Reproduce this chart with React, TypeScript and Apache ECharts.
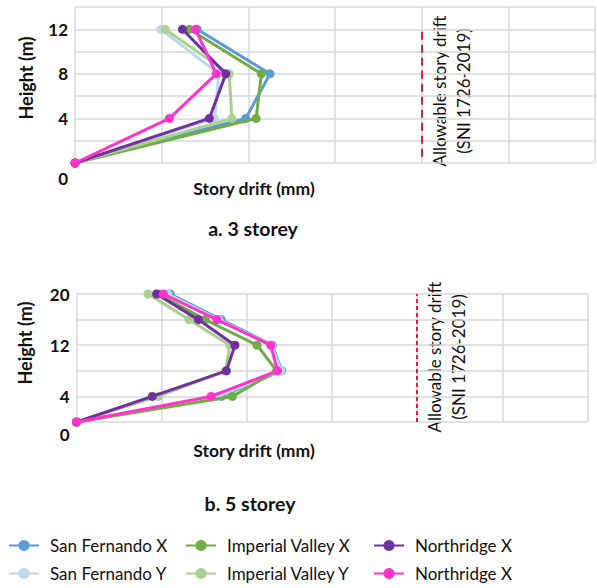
import React, { useEffect, useRef } from "react";
import * as echarts from "echarts";

const seriesNames = ["San Fernando X", "San Fernando Y", "Imperial Valley X", "Imperial Valley Y", "Northridge X", "Northridge Y"];
const seriesColors = ["#5B9BD5", "#BDD7EE", "#70AD47", "#A9D18E", "#7030A0", "#FF33CC"];

// 3 storey
const heights3 = [0, 4, 8, 12];
const sfX3 = [0, 19.7, 22.5, 14.1];
const sfY3 = [0, 16.1, 16.6, 9.9];
const ivX3 = [0, 20.9, 21.5, 13.2];
const ivY3 = [0, 18.1, 17.8, 10.4];
const nrX3 = [0, 15.5, 17.4, 12.4];
const nrY3 = [0, 10.9, 16.3, 13.9];

// 5 storey
const heights5 = [0, 4, 8, 12, 16, 20];
const sfX5 = [0, 17.0, 24.1, 23.0, 17.0, 11.0];
const sfY5 = [0, 16.6, 24.0, 22.9, 16.7, 10.7];
const ivX5 = [0, 18.3, 23.5, 21.2, 15.1, 9.6];
const ivY5 = [0, 9.6, 17.5, 18.0, 13.2, 8.4];
const nrX5 = [0, 8.9, 17.6, 18.6, 14.3, 9.4];
const nrY5 = [0, 15.8, 23.6, 22.8, 16.5, 10.2];

const allowableDrift = 40;
const yTicks3 = [0, 4, 8, 12];
const yTicks5 = [0, 4, 12, 20];

const FONT = "Lato";

export default function App() {
  const ref = useRef<HTMLDivElement>(null);
  useEffect(() => {
    document.body.style.margin = "0";
    if (!ref.current) return;
    const chart = echarts.init(ref.current, null, { renderer: "svg" });
    const data3 = [sfX3, sfY3, ivX3, ivY3, nrX3, nrY3];
    const data5 = [sfX5, sfY5, ivX5, ivY5, nrX5, nrY5];

    const mkSeries = (arrs: number[][], heights: number[], idx: number, dash: number[], lineFrom: number, lineTo: number) =>
      arrs.map((arr, i) => ({
        type: "line",
        name: seriesNames[i],
        xAxisIndex: idx,
        yAxisIndex: idx,
        data: arr.map((v, k) => [v, heights[k]]),
        color: seriesColors[i],
        lineStyle: { width: 3, color: seriesColors[i] },
        itemStyle: { color: seriesColors[i] },
        symbol: "circle",
        symbolSize: 9,
        z: 3 + i,
        markLine:
          i === 0
            ? {
                silent: true,
                symbol: "none",
                label: { show: false },
                lineStyle: { color: "#E8202A", width: 2, type: dash },
                data: [[{ coord: [allowableDrift, lineFrom] }, { coord: [allowableDrift, lineTo] }]],
              }
            : undefined,
      }));

    const splitLine = { show: true, lineStyle: { color: "#D9D9D9", width: 1.5 } };
    const yLabel = (ticks: number[], pad: number) => ({
      show: true,
      fontFamily: FONT,
      fontWeight: "bold",
      fontSize: 17,
      color: "#111",
      margin: 7,
      formatter: (v: number) => (ticks.includes(v) ? (v === 0 ? "{z|0}" : String(v)) : ""),
      rich: { z: { padding: [pad, 0, 0, 0], fontFamily: FONT, fontWeight: "bold", fontSize: 17, color: "#111" } },
    });

    const legendBase = {
      orient: "vertical",
      top: 537,
      height: 48,
      padding: 0,
      itemWidth: 30,
      itemHeight: 14,
      itemGap: 11,
      textStyle: { fontFamily: FONT, fontSize: 17, color: "#111", padding: [0, 0, 0, 6] },
      formatter: (n: string) => (n === "Northridge Y" ? "Northridge X" : n),
    };

    const text = (t: string, x: number, y: number, size: number, weight: string, rot = 0, lh?: number) => ({
      type: "text",
      x,
      y,
      rotation: rot,
      style: {
        text: t,
        fontFamily: FONT,
        fontSize: size,
        fontWeight: weight,
        fill: "#111",
        align: "center",
        verticalAlign: "middle",
        lineHeight: lh,
      },
    });

    chart.setOption({
      animation: false,
      grid: [
        { left: 75, top: 7, width: 520, height: 156 },
        { left: 76.5, top: 294, width: 511, height: 128 },
      ],
      xAxis: [0, 1].map((i) => ({
        type: "value",
        gridIndex: i,
        min: 0,
        max: 60,
        interval: 10,
        axisLabel: { show: false },
        axisTick: { show: false },
        axisLine: { show: false },
        splitLine,
      })),
      yAxis: [
        {
          type: "value",
          gridIndex: 0,
          min: 0,
          max: 14,
          interval: 2,
          axisTick: { show: false },
          axisLine: { show: false },
          splitLine,
          axisLabel: yLabel(yTicks3, 30),
        },
        {
          type: "value",
          gridIndex: 1,
          min: 0,
          max: 20,
          interval: 4,
          axisTick: { show: false },
          axisLine: { show: false },
          splitLine,
          axisLabel: yLabel(yTicks5, 24),
        },
      ],
      legend: [
        { ...legendBase, left: 8, data: seriesNames.slice(0, 2) },
        { ...legendBase, left: 185, data: seriesNames.slice(2, 4) },
        { ...legendBase, left: 373, data: seriesNames.slice(4, 6) },
      ],
      graphic: [
        text("Height (m)", 26, 78, 18, "bold", Math.PI / 2),
        text("Height (m)", 25, 343, 18, "bold", Math.PI / 2),
        text("Story drift (mm)", 254, 188, 17.5, "bold"),
        text("Story drift (mm)", 254, 450, 17.5, "bold"),
        text("a. 3 storey", 253, 228, 19.5, "bold"),
        text("b. 5 storey", 250, 503, 19.5, "bold"),
        text("Allowable story drift\n(SNI 1726-2019)", 451, 91, 17, "normal", Math.PI / 2, 24),
        text("Allowable story drift\n(SNI 1726-2019)", 446.5, 357, 17, "normal", Math.PI / 2, 24),
      ],
      series: [
        ...mkSeries(data3, heights3, 0, [8, 5], 0.55, 11.9),
        ...mkSeries(data5, heights5, 1, [4, 3], 0, 20),
      ],
    });
    return () => chart.dispose();
  }, []);
  return <div ref={ref} style={{ width: 597, height: 588 }} />;
}
